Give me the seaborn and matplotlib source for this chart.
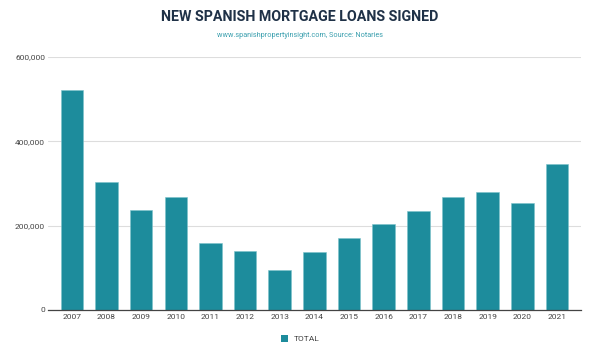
import matplotlib
matplotlib.use("Agg")
import matplotlib.pyplot as plt
import seaborn as sns
import pandas as pd
from matplotlib.patches import Patch
from matplotlib.ticker import FuncFormatter

years = ["2007", "2008", "2009", "2010", "2011", "2012", "2013", "2014",
         "2015", "2016", "2017", "2018", "2019", "2020", "2021"]
total = [521000, 303000, 237000, 267000, 158000, 139000, 95000, 137000,
         171000, 205000, 234000, 267000, 279000, 254000, 345000]
series_name = "TOTAL"
y_ticks = [0, 200000, 400000, 600000]

title = "NEW SPANISH MORTGAGE LOANS SIGNED"
subtitle = "www.spanishpropertyinsight.com, Source: Notaries"

sns.set_theme(style="white")
plt.rcParams["font.family"] = ["Roboto", "DejaVu Sans"]

bar_color = "#1d8c9c"
df = pd.DataFrame({"year": years, "total": total})

fig = plt.figure(figsize=(6, 3.5), dpi=100)
ax = fig.add_axes([0.08, 0.1143, 0.888, 0.723])

sns.barplot(data=df, x="year", y="total", color=bar_color, saturation=1,
            width=0.65, edgecolor="#7cc2cb", linewidth=0.4, ax=ax, zorder=3)

ax.set_ylim(0, 600000)
ax.set_xlim(-0.69, len(years) - 1 + 0.69)
ax.set_yticks(y_ticks)
ax.yaxis.set_major_formatter(FuncFormatter(lambda v, p: f"{int(v):,}"))
ax.grid(axis="y", color="#dddddd", linewidth=0.8, zorder=0)
ax.set_axisbelow(True)
for s in ["top", "right", "left"]:
    ax.spines[s].set_visible(False)
ax.spines["bottom"].set_color("#444444")
ax.spines["bottom"].set_linewidth(0.9)
ax.spines["bottom"].set_zorder(5)
ax.tick_params(axis="y", length=0, pad=2, labelsize=6, labelcolor="#444444")
ax.tick_params(axis="x", length=0, pad=3, labelsize=6, labelcolor="#444444")
ax.set_xlabel("")
ax.set_ylabel("")

fig.text(0.5, 0.951, title, ha="center", va="center", fontsize=10.3,
         fontweight="bold", color="#1f3147")
fig.text(0.5, 0.898, subtitle, ha="center", va="center", fontsize=5.2,
         color="#3a9fae")

handles = [Patch(facecolor=bar_color, edgecolor="none", label=series_name)]
fig.legend(handles=handles, loc="center", bbox_to_anchor=(0.5, 0.032),
           frameon=False, fontsize=6, handlelength=0.9, handleheight=0.9,
           handletextpad=0.6, labelcolor="#444444")

fig.savefig("out.png", dpi=100, facecolor="white")
